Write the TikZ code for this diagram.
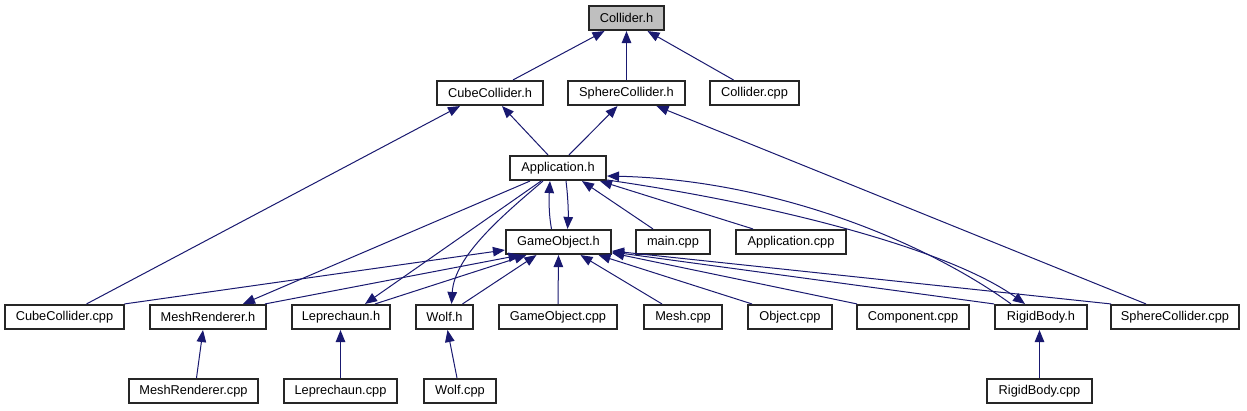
\documentclass[tikz,border=0pt]{standalone}
\usepackage{fontspec}
\setmainfont{Liberation Sans}
\usetikzlibrary{arrows.meta}
\definecolor{edgeblue}{HTML}{191970}
\definecolor{rootgray}{HTML}{BFBFBF}
\begin{document}
\begin{tikzpicture}[x=1pt,y=-1pt,
  file/.style={draw=black!85, line width=1.6pt, rectangle, minimum height=24.5pt,
    inner sep=0pt, fill=white, font=\fontsize{12.8}{14}\selectfont},
  rootfile/.style={file, fill=rootgray},
  edge/.style={draw=edgeblue, line width=1pt, -{Triangle[length=12pt,width=9.5pt]}}]
\useasboundingbox[fill=white] (0,0) rectangle (1247,411);
% row 0
\node[rootfile, minimum width=75.5pt] (colh) at (626.5,18) {Collider.h};
% row 1
\node[file, minimum width=106.5pt] (cubeh) at (490,93) {CubeCollider.h};
\node[file, minimum width=117.5pt] (sphh) at (626.5,93) {SphereCollider.h};
\node[file, minimum width=89.5pt] (colcpp) at (754.5,93) {Collider.cpp};
% row 2
\node[file, minimum width=96.5pt] (apph) at (558,168) {Application.h};
% row 3
\node[file, minimum width=105.5pt] (goh) at (558.5,242) {GameObject.h};
\node[file, minimum width=74.5pt] (maincpp) at (673,242) {main.cpp};
\node[file, minimum width=110.5pt] (appcpp) at (791,242) {Application.cpp};
% row 4
\node[file, minimum width=119.5pt] (cubecpp) at (64.5,317) {CubeCollider.cpp};
\node[file, minimum width=116.5pt] (mrh) at (208,317) {MeshRenderer.h};
\node[file, minimum width=98.5pt] (leph) at (341,317) {Leprechaun.h};
\node[file, minimum width=57.5pt] (wolfh) at (444.5,317) {Wolf.h};
\node[file, minimum width=118.5pt] (gocpp) at (558,317) {GameObject.cpp};
\node[file, minimum width=77.5pt] (meshcpp) at (683,317) {Mesh.cpp};
\node[file, minimum width=83.5pt] (objcpp) at (790,317) {Object.cpp};
\node[file, minimum width=112.5pt] (compcpp) at (913,317) {Component.cpp};
\node[file, minimum width=92.5pt] (rbh) at (1041,317) {RigidBody.h};
\node[file, minimum width=128.5pt] (sphcpp) at (1175,317) {SphereCollider.cpp};
% row 5
\node[file, minimum width=129.5pt] (mrcpp) at (193.5,391) {MeshRenderer.cpp};
\node[file, minimum width=113.5pt] (lepcpp) at (340.5,391) {Leprechaun.cpp};
\node[file, minimum width=72.5pt] (wolfcpp) at (460,391) {Wolf.cpp};
\node[file, minimum width=105.5pt] (rbcpp) at (1039.5,391) {RigidBody.cpp};

% edges into Collider.h
\draw[edge] ([xshift=23pt]cubeh.north) -- ([xshift=-22pt]colh.south);
\draw[edge] (sphh.north) -- (colh.south);
\draw[edge] ([xshift=-21pt]colcpp.north) -- ([xshift=21pt]colh.south);
% edges into CubeCollider.h / SphereCollider.h
\draw[edge] ([xshift=22pt]cubecpp.north) -- ([xshift=-30pt]cubeh.south);
\draw[edge] ([xshift=-10pt]apph.north) -- ([xshift=12pt]cubeh.south);
\draw[edge] ([xshift=11pt]apph.north) -- ([xshift=-9pt]sphh.south);
\draw[edge] ([xshift=-29pt]sphcpp.north) -- ([xshift=30pt]sphh.south);
% Application.h <-> GameObject.h
\draw[edge] ([xshift=-7pt]goh.north) .. controls +(-3,-16) and +(-1,16) .. ([xshift=-8pt]apph.south);
\draw[edge] ([xshift=8pt]apph.south) .. controls +(2,16) and +(1,-16) .. ([xshift=9pt]goh.north);
% Application.h -> row 3 headers
\draw[edge] ([xshift=-28pt]apph.south) -- ([xshift=35pt]mrh.north);
\draw[edge] ([xshift=-17pt]apph.south) -- ([xshift=24pt]leph.north);
\draw[edge] ([xshift=-15pt]apph.south) .. controls +(-40,34) and +(3,-48) .. ([xshift=7pt]wolfh.north);
% into Application.h
\draw[edge] ([xshift=-20pt]maincpp.north) -- ([xshift=24pt]apph.south);
\draw[edge] ([xshift=-38pt]appcpp.north) -- ([xshift=42pt]apph.south);
% Application.h <-> RigidBody.h
\draw[edge] ([xshift=-30pt]rbh.north) .. controls +(-81,-59) and +(172,4) .. ([yshift=-8pt]apph.east);
\draw[edge] ([yshift=-12pt]apph.east) .. controls +(173,25) and +(-75,-54) .. ([xshift=-16pt]rbh.north);
% into GameObject.h
\draw[edge] ([xshift=60pt]cubecpp.north) -- ([yshift=-8pt]goh.west);
\draw[edge] ([xshift=57pt]mrh.north) -- ([xshift=-38pt]goh.south);
\draw[edge] ([xshift=34pt]leph.north) -- ([xshift=-32pt]goh.south);
\draw[edge] ([xshift=18pt]wolfh.north) -- ([xshift=-22pt]goh.south);
\draw[edge] (gocpp.north) -- (goh.south);
\draw[edge] ([xshift=-21pt]meshcpp.north) -- ([xshift=22pt]goh.south);
\draw[edge] ([xshift=-38pt]objcpp.north) -- ([xshift=40pt]goh.south);
\draw[edge] ([xshift=-56pt]compcpp.north) -- ([yshift=-11pt]goh.east);
\draw[edge] ([xshift=-47pt]rbh.north) -- ([yshift=-10pt]goh.east);
\draw[edge] ([xshift=-64pt]sphcpp.north) -- ([yshift=-9pt]goh.east);
% bottom row
\draw[edge] ([xshift=3pt]mrcpp.north) -- ([xshift=-5pt]mrh.south);
\draw[edge] (lepcpp.north) -- ([xshift=-0.5pt]leph.south);
\draw[edge] ([xshift=-3pt]wolfcpp.north) -- ([xshift=3pt]wolfh.south);
\draw[edge] (rbcpp.north) -- ([xshift=-1.5pt]rbh.south);
\end{tikzpicture}
\end{document}
